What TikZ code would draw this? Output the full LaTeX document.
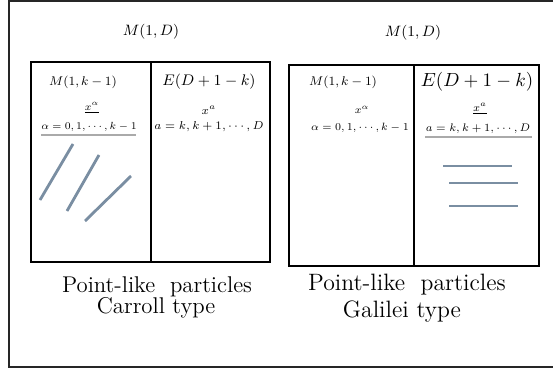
\documentclass[tikz,border=0pt]{standalone}
\usepackage{xcolor}
\definecolor{slate}{RGB}{122,142,162}
\definecolor{rulegrey}{RGB}{170,170,170}

\begin{document}
\begin{tikzpicture}[x=0.02cm, y=-0.02cm,
  every node/.style={inner sep=1pt},
  panel/.style={draw=black, line width=1pt},
  stroke/.style={draw=slate, line width=1.6pt},
  rule/.style={draw=rulegrey, line width=1pt},
  coord/.style={font=\scriptsize, scale=#1, transform shape},
  coord/.default=0.84,
  sub/.style={font=\footnotesize, scale=0.9, transform shape},
  title/.style={font=\small, scale=0.95, transform shape},
  caption/.style={font=\large, scale=1.08, transform shape},
]

\useasboundingbox (0,0) rectangle (553,371);
\draw[line width=1.2pt, draw=black!85] (560,1) -- (9,1) -- (9,367) -- (560,367);

% Carroll type
\node[title] (cTitle) at (151,32) {$M(1,D)$};
\draw[panel] (31,62) rectangle (270,262);
\draw[panel] (151,62) -- (151,262);

\node[sub] (cM) at (83,82) {$M(1,k-1)$};
\node[coord] (cXa) at (92,108) {$\underline{x^\alpha}$};
\node[coord] (cAl) at (89,127) {$\alpha=0,1,\cdots,k-1$};
\draw[rule] (41,135) -- (136,135);

\node[font=\small, scale=0.97, transform shape] (cE) at (209,82) {$E(D+1-k)$};
\node[coord=0.93] (cXb) at (209,110) {$x^a$};
\node[coord=0.93] (cA) at (209,127) {$a=k,k+1,\cdots,D$};

\draw[stroke] (40,200) -- (73,144);
\draw[stroke] (67,211) -- (99,155);
\draw[stroke] (85,221) -- (131,176);

\node[caption] (cCap) at (157,287) {Point-like\ \ particles};
\node[caption] (cType) at (156,308) {Carroll type};

% Galilei type
\node[title] (gTitle) at (413,33) {$M(1,D)$};
\draw[panel] (289,65) rectangle (539,266);
\draw[panel] (414,65) -- (414,266);

\node[sub] (gM) at (343,82) {$M(1,k-1)$};
\node[coord=0.86] (gXa) at (362,110) {$x^\alpha$};
\node[coord=0.86] (gAl) at (360,128) {$\alpha=0,1,\cdots,k-1$};

\node[scale=1.08, transform shape] (gE) at (477,82) {$E(D+1-k)$};
\node[coord=0.89] (gXb) at (480,109) {$\underline{x^a}$};
\node[coord=0.89] (gA) at (478,129) {$a=k,k+1,\cdots,D$};
\draw[rule] (425,137) -- (532,137);

\draw[stroke] (443,166) -- (512,166);
\draw[stroke] (449,183) -- (518,183);
\draw[stroke] (449,206) -- (518,206);

\node[caption, scale=1.04] (gCap) at (407,285) {Point-like\ \ particles};
\node[caption, scale=1.04] (gType) at (402,312) {Galilei type};

\end{tikzpicture}
\end{document}
